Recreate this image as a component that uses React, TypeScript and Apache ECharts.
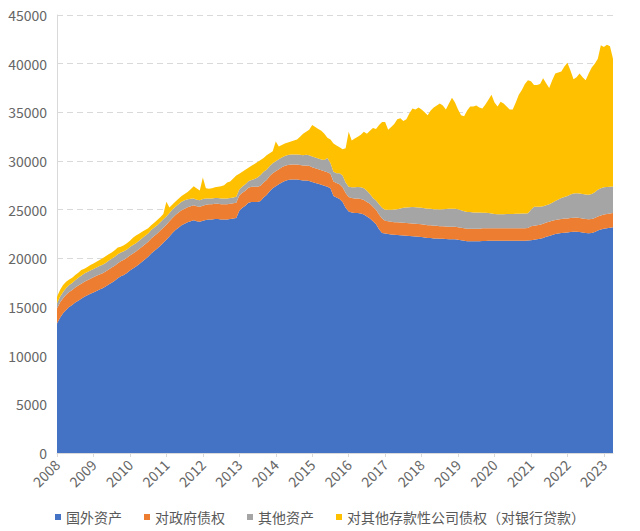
import React, { useEffect, useRef } from "react";
import * as echarts from "echarts";

const YEARS = [2008, 2009, 2010, 2011, 2012, 2013, 2014, 2015, 2016, 2017, 2018, 2019, 2020, 2021, 2022, 2023];
const LAST_YEAR_MONTHS = 4;

const SERIES_NAMES = ["国外资产", "对政府债权", "其他资产", "对其他存款性公司债权（对银行贷款）"];
const COLORS = ["#4472C4", "#ED7D31", "#A5A5A5", "#FFC000"];

// 国外资产
const foreignAssets = [
  13300, 13900, 14350, 14700, 15000, 15200, 15450, 15650, 15850, 16050, 16200, 16350,
  16500, 16650, 16800, 16920, 17100, 17300, 17500, 17700, 17950, 18150, 18300, 18500,
  18750, 18950, 19150, 19400, 19650, 19900, 20150, 20500, 20750, 21000, 21300, 21600,
  21900, 22250, 22600, 22900, 23150, 23400, 23550, 23700, 23800, 23900, 23800, 23750,
  23850, 23950, 24000, 24000, 24050, 24050, 24000, 24000, 24000, 24050, 24100, 24150,
  24900, 25200, 25400, 25700, 25800, 25800, 25800, 25900, 26250, 26500, 26900, 27200,
  27400, 27600, 27800, 27950, 28050, 28100, 28100, 28100, 28050, 28000, 28000, 27950,
  27850, 27750, 27650, 27550, 27450, 27350, 27200, 26400, 26250, 26100, 25800, 25200,
  24800, 24700, 24650, 24650, 24600, 24500, 24300, 24100, 23800, 23500, 23000, 22600,
  22550, 22500, 22450, 22420, 22400, 22380, 22350, 22330, 22300, 22270, 22250, 22230,
  22200, 22150, 22100, 22100, 22050, 22050, 22000, 22000, 21980, 21950, 21950, 21950,
  21900, 21850, 21800, 21750, 21750, 21750, 21750, 21750, 21780, 21780, 21800, 21800,
  21800, 21800, 21800, 21800, 21800, 21800, 21800, 21800, 21800, 21800, 21800, 21820,
  21850, 21900, 21950, 22000, 22100, 22230, 22300, 22400, 22500, 22550, 22600, 22640,
  22650, 22700, 22720, 22740, 22700, 22650, 22600, 22570, 22600, 22700, 22850, 22950,
  23050, 23100, 23150, 23200,
];

// 对政府债权
const govClaims = [
  1550, 1550, 1550, 1550, 1550, 1550, 1550, 1550, 1550, 1550, 1550, 1550,
  1550, 1550, 1550, 1550, 1550, 1550, 1550, 1550, 1550, 1550, 1550, 1550,
  1550, 1550, 1550, 1550, 1550, 1550, 1550, 1550, 1550, 1550, 1550, 1550,
  1550, 1550, 1550, 1550, 1550, 1550, 1550, 1550, 1550, 1550, 1550, 1550,
  1550, 1550, 1550, 1550, 1550, 1550, 1550, 1550, 1550, 1550, 1550, 1550,
  1550, 1550, 1550, 1550, 1550, 1550, 1550, 1550, 1550, 1550, 1550, 1550,
  1550, 1550, 1550, 1550, 1550, 1550, 1550, 1550, 1550, 1550, 1550, 1550,
  1500, 1500, 1500, 1500, 1500, 1500, 1500, 1500, 1500, 1500, 1500, 1500,
  1500, 1500, 1500, 1500, 1500, 1500, 1500, 1500, 1500, 1500, 1500, 1500,
  1300, 1300, 1300, 1300, 1300, 1300, 1300, 1300, 1300, 1300, 1300, 1300,
  1300, 1300, 1300, 1300, 1300, 1300, 1300, 1300, 1300, 1300, 1300, 1300,
  1300, 1300, 1300, 1300, 1300, 1300, 1300, 1300, 1300, 1300, 1300, 1300,
  1300, 1300, 1300, 1300, 1300, 1300, 1300, 1300, 1300, 1300, 1300, 1300,
  1450, 1450, 1450, 1450, 1450, 1450, 1450, 1450, 1450, 1450, 1450, 1450,
  1450, 1450, 1450, 1450, 1450, 1450, 1450, 1450, 1450, 1450, 1450, 1450,
  1450, 1450, 1450, 1450,
];

// 其他资产
const otherAssets = [
  520, 600, 650, 700, 720, 720, 760, 800, 820, 840, 850, 860,
  860, 860, 860, 860, 880, 900, 920, 920, 920, 900, 880, 860,
  860, 860, 860, 860, 860, 860, 860, 860, 860, 860, 860, 860,
  860, 860, 860, 860, 860, 860, 860, 820, 760, 700, 680, 680,
  690, 650, 600, 590, 590, 590, 590, 590, 600, 600, 610, 620,
  620, 640, 660, 680, 700, 800, 950, 1100, 1100, 1050, 1030, 1020,
  1020, 1020, 1020, 1020, 1020, 1030, 1020, 1020, 1030, 1050, 1080, 1100,
  1100, 1100, 1100, 1100, 1150, 1450, 1100, 1000, 1000, 1150, 1200, 1100,
  1050, 1100, 1150, 1190, 1200, 1200, 1150, 1000, 900, 950, 1050, 1100,
  1150, 1200, 1250, 1300, 1350, 1450, 1550, 1600, 1650, 1700, 1700, 1700,
  1700, 1700, 1700, 1700, 1700, 1700, 1720, 1750, 1800, 1850, 1850, 1850,
  1850, 1800, 1750, 1700, 1700, 1650, 1650, 1650, 1600, 1600, 1550, 1500,
  1450, 1440, 1440, 1440, 1450, 1450, 1460, 1470, 1480, 1500, 1500, 1520,
  1700, 1950, 1900, 1850, 1800, 1780, 1800, 1850, 1950, 2050, 2150, 2220,
  2300, 2400, 2500, 2500, 2500, 2500, 2500, 2500, 2550, 2650, 2750, 2810,
  2800, 2780, 2760, 2740,
];

// 对其他存款性公司债权（对银行贷款）
const bankClaims = [
  680, 700, 720, 650, 560, 530, 540, 520, 580, 500, 520, 550,
  560, 580, 620, 680, 680, 670, 620, 650, 690, 600, 620, 650,
  650, 750, 780, 720, 660, 600, 540, 480, 500, 520, 520, 550,
  1500, 560, 520, 520, 560, 600, 650, 750, 1000, 1250, 1150, 1000,
  2210, 1050, 1000, 1060, 1110, 1160, 1260, 1360, 1650, 1700, 1940, 2180,
  1630, 1510, 1490, 1370, 1450, 1550, 1600, 1550, 1400, 1500, 1320, 1230,
  2030, 1330, 1280, 1280, 1280, 1320, 1430, 1530, 1870, 2200, 2370, 2600,
  3250, 3150, 3050, 2950, 2700, 2100, 2400, 2900, 2850, 2650, 2700, 3500,
  5650, 4800, 5000, 5160, 5400, 5800, 5850, 6500, 7200, 7350, 8150, 8800,
  9000, 8200, 8500, 8780, 9250, 9270, 8900, 9070, 9650, 10130, 10050, 10270,
  10100, 9850, 9600, 10100, 10450, 10650, 10880, 10650, 10220, 10800, 11400, 10900,
  10250, 9750, 9750, 10450, 10850, 10900, 11000, 10800, 10720, 11120, 11650, 12200,
  11450, 11060, 11560, 11360, 11050, 10750, 10740, 11430, 12220, 12700, 13300, 13660,
  13200, 12500, 12500, 12600, 13150, 12540, 11950, 12600, 13100, 13050, 13000, 13390,
  13700, 12750, 11730, 11910, 12350, 12000, 11750, 12480, 13000, 13200, 13450, 14690,
  14400, 14620, 14440, 13110,
];

const Y_MIN = 0;
const Y_MAX = 45000;
const Y_INTERVAL = 5000;

function buildMonths(): string[] {
  const out: string[] = [];
  YEARS.forEach((y, yi) => {
    const n = yi === YEARS.length - 1 ? LAST_YEAR_MONTHS : 12;
    for (let m = 1; m <= n; m++) out.push(`${y}-${m < 10 ? "0" + m : m}`);
  });
  return out;
}

export default function App() {
  const ref = useRef<HTMLDivElement>(null);
  useEffect(() => {
    document.body.style.margin = "0";
    if (!ref.current) return;
    const chart = echarts.init(ref.current, null, { renderer: "svg" });
    const months = buildMonths();
    const seriesData = [foreignAssets, govClaims, otherAssets, bankClaims];
    const font = "'Noto Sans CJK SC', 'Noto Sans', sans-serif";
    chart.setOption({
      animation: false,
      color: COLORS,
      textStyle: { fontFamily: font },
      grid: { left: 57, right: 27, top: 15, bottom: 78, containLabel: false },
      legend: {
        top: 505,
        left: "center",
        icon: "rect",
        itemWidth: 6,
        itemHeight: 6,
        itemGap: 22,
        textStyle: { color: "#595959", fontSize: 14, fontFamily: font },
        data: SERIES_NAMES,
      },
      xAxis: {
        type: "category",
        boundaryGap: false,
        data: months,
        axisLine: { lineStyle: { color: "#D9D9D9" } },
        axisTick: {
          show: true,
          interval: (i: number) => i % 12 === 0,
          length: 4,
          lineStyle: { color: "#D9D9D9" },
        },
        axisLabel: {
          interval: (i: number) => i % 12 === 0,
          formatter: (v: string) => v.slice(0, 4),
          rotate: 45,
          color: "#666666",
          fontSize: 14,
          margin: 9,
          fontFamily: font,
        },
        splitLine: { show: false },
      },
      yAxis: {
        type: "value",
        min: Y_MIN,
        max: Y_MAX,
        interval: Y_INTERVAL,
        axisLine: { show: true, lineStyle: { color: "#D9D9D9" } },
        axisTick: { show: false },
        axisLabel: {
          color: "#666666",
          fontSize: 14,
          margin: 10,
          fontFamily: font,
          formatter: (v: number) => String(v),
        },
        splitLine: { lineStyle: { color: "#D9D9D9", type: [6, 4] } },
      },
      series: SERIES_NAMES.map((name, i) => ({
        name,
        type: "line",
        stack: "total",
        data: seriesData[i],
        showSymbol: false,
        symbol: "none",
        lineStyle: { width: 0 },
        areaStyle: { color: COLORS[i], opacity: 1 },
        itemStyle: { color: COLORS[i] },
      })),
    });
    return () => chart.dispose();
  }, []);
  return (
    <div
      ref={ref}
      style={{ position: "absolute", left: 0, top: 0, width: 640, height: 531 }}
    />
  );
}
